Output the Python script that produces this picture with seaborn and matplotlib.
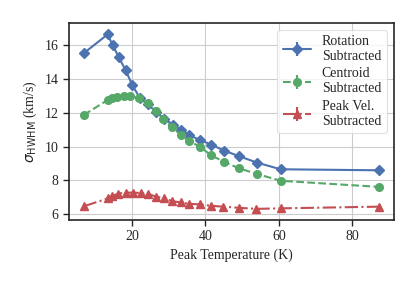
import matplotlib
matplotlib.use("Agg")
import matplotlib.pyplot as plt
import seaborn as sns

# peak temperature bins (K)
temp_rot = [6.8, 13.3, 14.7, 16.4, 18.2, 20.1, 22.1, 24.2, 26.6, 28.8, 31.1, 33.4, 35.6, 38.6, 41.6, 45.0, 49.1, 54.1, 60.5, 87.3]
temp_cen = [6.8, 13.3, 14.6, 15.9, 17.7, 19.5, 22.0, 24.3, 26.4, 28.5, 30.9, 33.2, 35.6, 38.4, 41.6, 45.0, 49.1, 54.1, 60.5, 87.3]
temp_pv = [6.8, 13.4, 14.6, 16.2, 18.2, 20.3, 22.3, 24.4, 26.6, 28.6, 30.9, 33.2, 35.5, 38.6, 41.6, 44.8, 49.1, 53.9, 60.5, 87.3]

# sigma_HWHM (km/s)
sig_rot = [15.52, 16.63, 16.0, 15.27, 14.52, 13.62, 12.88, 12.5, 12.05, 11.65, 11.3, 10.98, 10.68, 10.38, 10.12, 9.77, 9.44, 9.05, 8.66, 8.60]
sig_cen = [11.87, 12.75, 12.85, 12.92, 12.98, 12.99, 12.85, 12.6, 12.1, 11.65, 11.15, 10.7, 10.33, 10.0, 9.48, 9.11, 8.72, 8.38, 7.98, 7.62]
sig_pv = [6.47, 6.94, 7.08, 7.22, 7.28, 7.28, 7.26, 7.2, 7.04, 6.95, 6.78, 6.7, 6.62, 6.58, 6.5, 6.45, 6.38, 6.32, 6.35, 6.45]

labels = ["Rotation\nSubtracted", "Centroid\nSubtracted", "Peak Vel.\nSubtracted"]

sns.set_theme(context="paper", style="ticks", rc={"axes.grid": True})
plt.rcParams["font.family"] = ["Liberation Serif", "DejaVu Serif"]
pal = sns.color_palette("deep")

fig = plt.figure(figsize=(4.16, 2.85), dpi=100)
ax = fig.add_axes([0.166, 0.228, 0.780, 0.692])

zero = [0] * len(temp_rot)
ax.errorbar(temp_rot, sig_rot, yerr=zero, color=pal[0], ls="-", marker="D", ms=5, lw=1.5, label=labels[0])
ax.errorbar(temp_cen, sig_cen, yerr=zero, color=pal[2], ls="--", marker="o", ms=5.5, lw=1.5, label=labels[1])
ax.errorbar(temp_pv, sig_pv, yerr=zero, color=pal[3], ls="-.", marker="^", ms=6, lw=1.5, label=labels[2])

ax.set_xlim(2.8, 91.3)
ax.set_ylim(5.66, 17.32)
ax.set_xticks([20, 40, 60, 80])
ax.set_yticks([6, 8, 10, 12, 14, 16])
ax.tick_params(labelsize=10, length=4)
ax.set_xlabel("Peak Temperature (K)", fontsize=10)
ax.set_ylabel(r"$\sigma_{\rm HWHM}$ (km/s)", fontsize=10)
for s in ax.spines.values():
    s.set_linewidth(1.2)
leg = ax.legend(loc="upper right", fontsize=10, frameon=True, labelspacing=0.3, handlelength=2.0)
leg.get_frame().set_edgecolor("0.85")
for t in leg.get_texts():
    t.set_multialignment("left")

plt.savefig("out.png", dpi=100)
plt.close()
